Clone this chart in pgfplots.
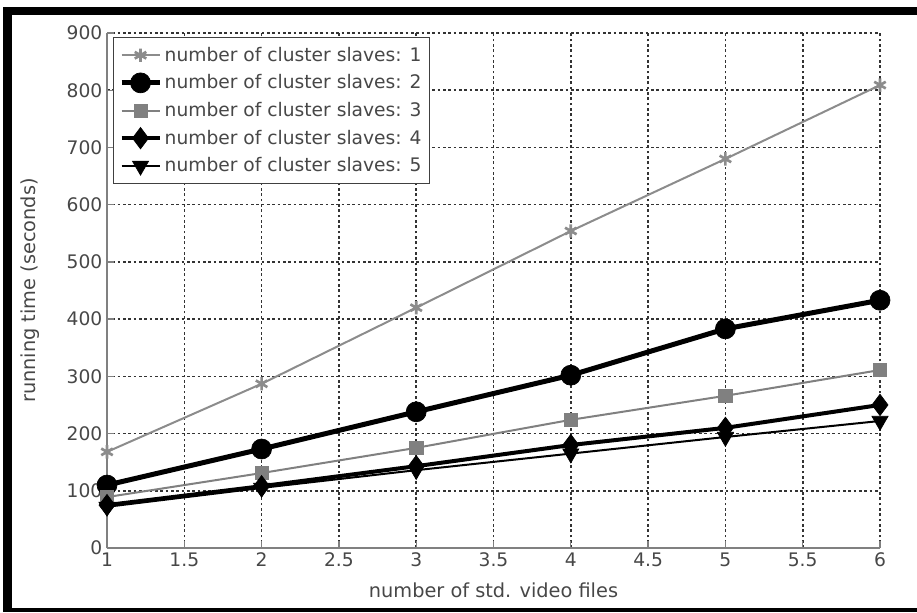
\documentclass[border=0pt]{standalone}
\usepackage{fontspec}
\setmainfont{DejaVu Sans}
\usepackage{pgfplots}
\pgfplotsset{compat=1.18}
\definecolor{txt}{gray}{0.28}
\definecolor{ax}{gray}{0.5}
\begin{document}
\begin{tikzpicture}[x=0.75pt,y=0.75pt]
\useasboundingbox (0,0) rectangle (917,612);
\fill[black] (3,0) rectangle (12,605);
\fill[black] (3,597) rectangle (917,605);
\fill[black] (3,0) rectangle (917,4);
\begin{axis}[
  at={(80.25pt,48pt)}, anchor=south west,
  scale only axis, width=579.75pt, height=386.25pt,
  xmin=1, xmax=6, ymin=0, ymax=900,
  xtick={1,1.5,...,6}, ytick={0,100,...,900},
  axis lines*=left, axis line style={-, draw=ax, line width=1.5pt},
  tick style={draw=ax, line width=1pt}, tick align=inside,
  major tick length=5pt,
  grid=major,
  major grid style={draw=black!80, line width=1.2pt, dash pattern=on 2pt off 2pt},
  /pgf/number format/assume math mode=true,
  ticklabel style={font=\fontsize{14}{16}\selectfont, text=txt},
  xlabel={number of std. video files},
  ylabel={running time (seconds)},
  label style={font=\fontsize{14.5}{16}\selectfont, text=txt},
  xlabel style={at={(axis description cs:0.5,-0.0816)}, anchor=center},
  ylabel style={at={(axis description cs:-0.0996,0.5)}, anchor=center},
  legend cell align=left,
  legend style={at={(0.0078,0.992)}, anchor=north west, draw=black!75, line width=1pt,
    font=\fontsize{14}{16}\selectfont, text=txt, fill=white, row sep=4.6pt,
    inner xsep=4pt, inner ysep=5pt},
  legend image code/.code={\draw[mark repeat=2,mark phase=2] plot coordinates {(0pt,0pt) (14.25pt,0pt) (28.5pt,0pt)};},
]
\addplot[draw=black!45, line width=1.5pt, mark=asterisk, mark size=5pt, mark options={line width=2pt, draw=black!45}]
  coordinates {(1,168) (2,287) (3,420) (4,554) (5,680) (6,809)};
\addlegendentry{number of cluster slaves: 1}
\addplot[draw=black, line width=3.75pt, mark=*, mark size=7.5pt, mark options={line width=0.5pt, fill=black}]
  coordinates {(1,110) (2,173) (3,238) (4,302) (5,383) (6,433)};
\addlegendentry{number of cluster slaves: 2}
\addplot[draw=black!50, line width=1.5pt, mark=square*, mark size=5pt, mark options={line width=0.5pt, fill=black!50, draw=black!50}]
  coordinates {(1,89) (2,131) (3,175) (4,224) (5,266) (6,311)};
\addlegendentry{number of cluster slaves: 3}
\addplot[draw=black, line width=3pt, mark=diamond*, mark size=8pt, mark options={line width=0.5pt, fill=black}]
  coordinates {(1,75) (2,108) (3,143) (4,180) (5,210) (6,250)};
\addlegendentry{number of cluster slaves: 4}
\addplot[draw=black, line width=1.5pt, mark=triangle*, mark size=7pt, mark options={line width=0.5pt, fill=black, rotate=180}]
  coordinates {(1,72) (2,105) (3,136) (4,165) (5,194) (6,222)};
\addlegendentry{number of cluster slaves: 5}
\end{axis}
\end{tikzpicture}
\end{document}
